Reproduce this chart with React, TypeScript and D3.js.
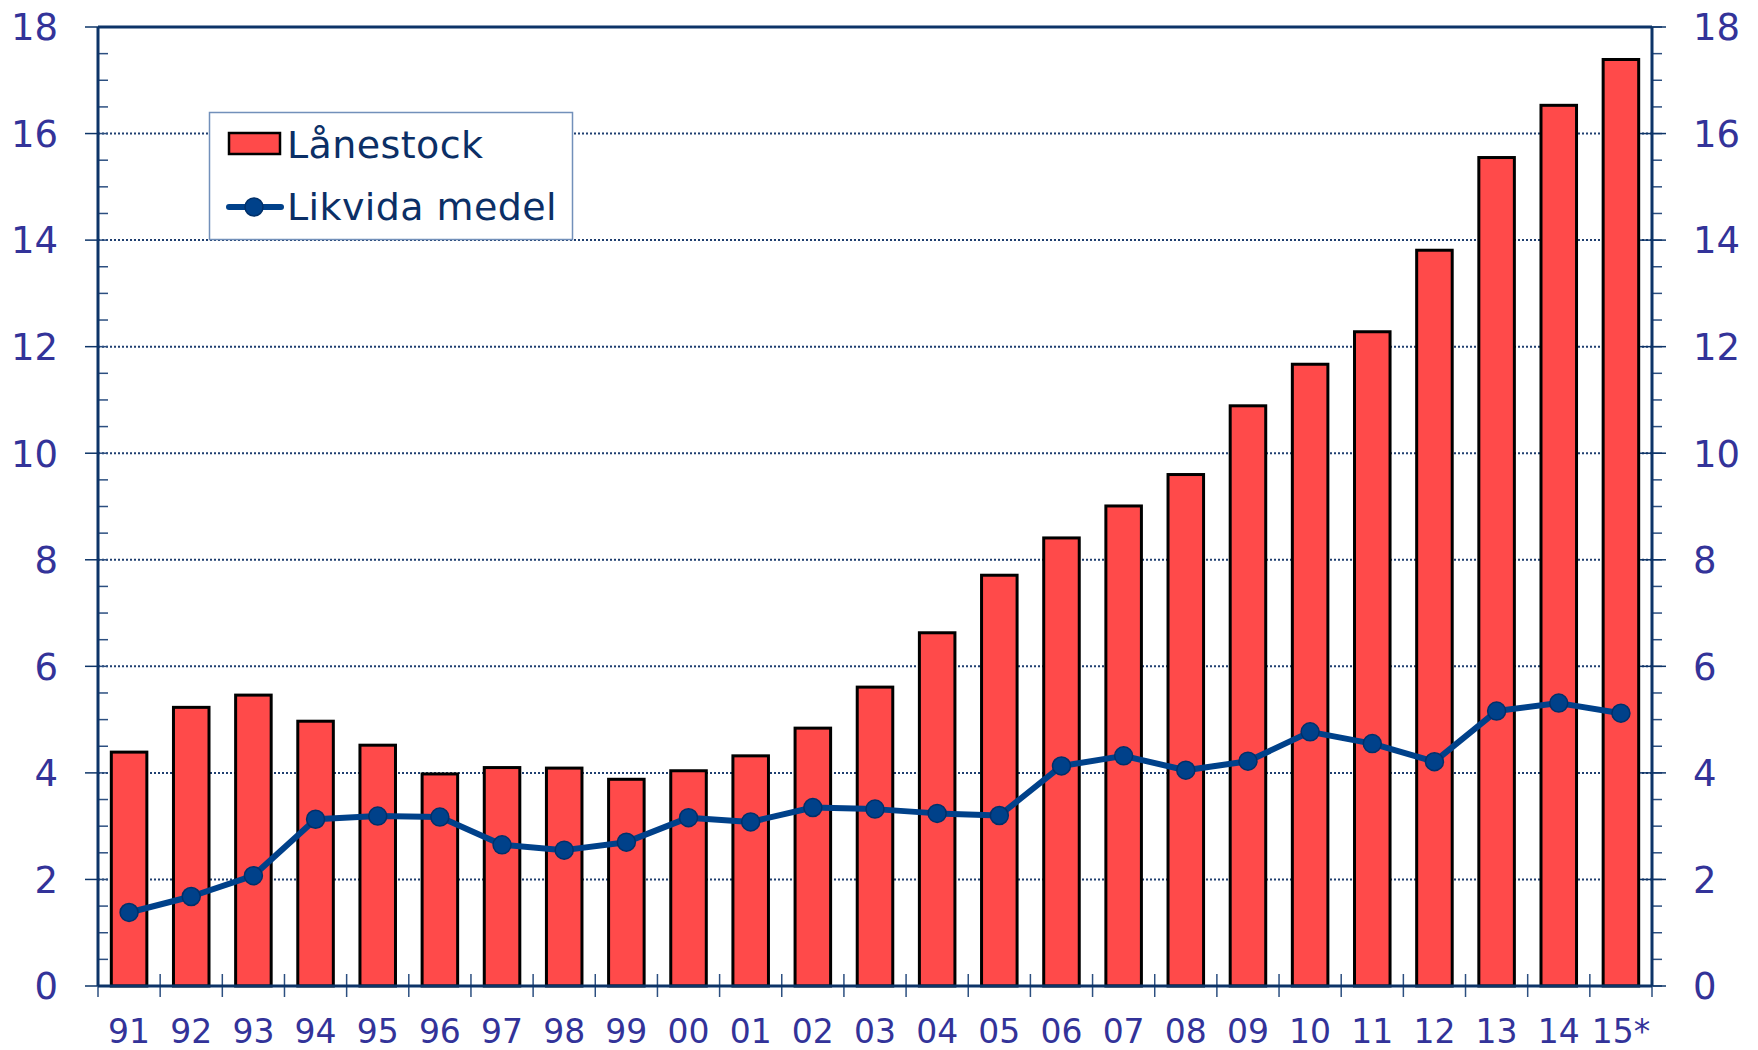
import React from "react";
import * as d3 from "d3";

const years = ["91","92","93","94","95","96","97","98","99","00","01","02","03","04","05","06","07","08","09","10","11","12","13","14","15*"];
const lanestock = [4.39,5.23,5.46,4.97,4.52,3.98,4.10,4.09,3.88,4.04,4.32,4.84,5.61,6.63,7.71,8.41,9.01,9.60,10.89,11.67,12.28,13.81,15.55,16.53,17.39];
const likvida = [1.38,1.68,2.07,3.13,3.19,3.17,2.65,2.55,2.70,3.16,3.08,3.35,3.32,3.24,3.20,4.13,4.32,4.05,4.22,4.77,4.55,4.21,5.16,5.31,5.12];
const yTicks = [0,2,4,6,8,10,12,14,16,18];
const seriesNames = ["Lånestock", "Likvida medel"];

const W = 1758, H = 1050;
const L = 98, R = 1652, T = 27, B = 986;
const FONT = "'DejaVu Sans', Verdana, sans-serif";
const LABEL = "#333399";
const AXIS = "#0d3468";
const LINE = "#00418a";

export default function App() {
  const x = d3.scaleBand<string>().domain(years).range([L, R]).paddingInner(0.38).paddingOuter(0.19);
  const step = x.step();
  const y = d3.scaleLinear().domain([0, 18]).range([B, T]);
  const minor = d3.range(0, 18.01, 0.5);
  const lineGen = d3.line<number>().x((_, i) => (x(years[i]) as number) + x.bandwidth() / 2).y((d) => y(d));
  const boundaries = d3.range(0, years.length + 1).map((i) => L + i * step);

  return (
    <svg width={W} height={H} style={{ position: "absolute", left: 0, top: 0, background: "#fff" }}>
      {yTicks.filter((t) => t > 0 && t < 18).map((t) => (
        <line key={"g" + t} x1={L} x2={R} y1={y(t)} y2={y(t)} stroke="#1f3f70" strokeWidth={2} strokeDasharray="2,2" />
      ))}
      {lanestock.map((v, i) => (
        <rect key={"b" + i} x={(x(years[i]) as number) + 1.5} y={y(v)} width={x.bandwidth() - 3} height={B - y(v)}
          fill="#ff4a4a" stroke="#000" strokeWidth={3} />
      ))}
      {minor.map((t) => (
        <line key={"lm" + t} x1={L} x2={L + 10} y1={y(t)} y2={y(t)} stroke="#2c4f80" strokeWidth={1.5} />
      ))}
      {minor.map((t) => (
        <line key={"rm" + t} x1={R} x2={R + 10} y1={y(t)} y2={y(t)} stroke="#2c4f80" strokeWidth={1.5} />
      ))}
      {yTicks.map((t) => (
        <g key={"mt" + t}>
          <line x1={L - 13} x2={L} y1={y(t)} y2={y(t)} stroke={AXIS} strokeWidth={1.5} />
          <line x1={R - 12} x2={R + 14} y1={y(t)} y2={y(t)} stroke={AXIS} strokeWidth={1.5} />
        </g>
      ))}
      {boundaries.map((bx, i) => (
        <line key={"xt" + i} x1={bx} x2={bx} y1={i === 0 || i === years.length ? B : B - 12} y2={B + 11} stroke="#2c4f80" strokeWidth={1.5} />
      ))}
      <line x1={L} x2={R} y1={T} y2={T} stroke={AXIS} strokeWidth={3} />
      <line x1={L} x2={L} y1={T} y2={B} stroke={AXIS} strokeWidth={3} />
      <line x1={R} x2={R} y1={T} y2={B} stroke={AXIS} strokeWidth={3} />
      <line x1={L} x2={R} y1={B} y2={B} stroke={AXIS} strokeWidth={3} />
      <path d={lineGen(likvida) || ""} fill="none" stroke={LINE} strokeWidth={6} strokeLinejoin="round" />
      {likvida.map((v, i) => (
        <circle key={"c" + i} cx={(x(years[i]) as number) + x.bandwidth() / 2} cy={y(v)} r={9} fill={LINE} stroke="#00306a" strokeWidth={1.5} />
      ))}
      {yTicks.map((t) => (
        <g key={"yl" + t}>
          <text x={58} y={y(t)} dy="0.36em" textAnchor="end" fontFamily={FONT} fontSize={37} fill={LABEL}>{t}</text>
          <text x={1693} y={y(t)} dy="0.36em" textAnchor="start" fontFamily={FONT} fontSize={37} fill={LABEL}>{t}</text>
        </g>
      ))}
      {years.map((yr) => (
        <text key={"xl" + yr} x={(x(yr) as number) + x.bandwidth() / 2} y={1043} textAnchor="middle" fontFamily={FONT} fontSize={33} fill={LABEL}>{yr}</text>
      ))}
      <rect x={209.5} y={112.5} width={363} height={127} fill="#fff" stroke="#7290ba" strokeWidth={1.5} />
      <rect x={229} y={133} width={51} height={21} fill="#ff4a4a" stroke="#000" strokeWidth={2.5} />
      <text x={287} y={158} fontFamily={FONT} fontSize={38} letterSpacing={0.4} fill="#0b2f66">{seriesNames[0]}</text>
      <line x1={229} x2={281} y1={207} y2={207} stroke={LINE} strokeWidth={6} strokeLinecap="round" />
      <circle cx={254} cy={207} r={9} fill={LINE} stroke="#00306a" strokeWidth={1.5} />
      <text x={287} y={220} fontFamily={FONT} fontSize={38} letterSpacing={0.4} fill="#0b2f66">{seriesNames[1]}</text>
    </svg>
  );
}
